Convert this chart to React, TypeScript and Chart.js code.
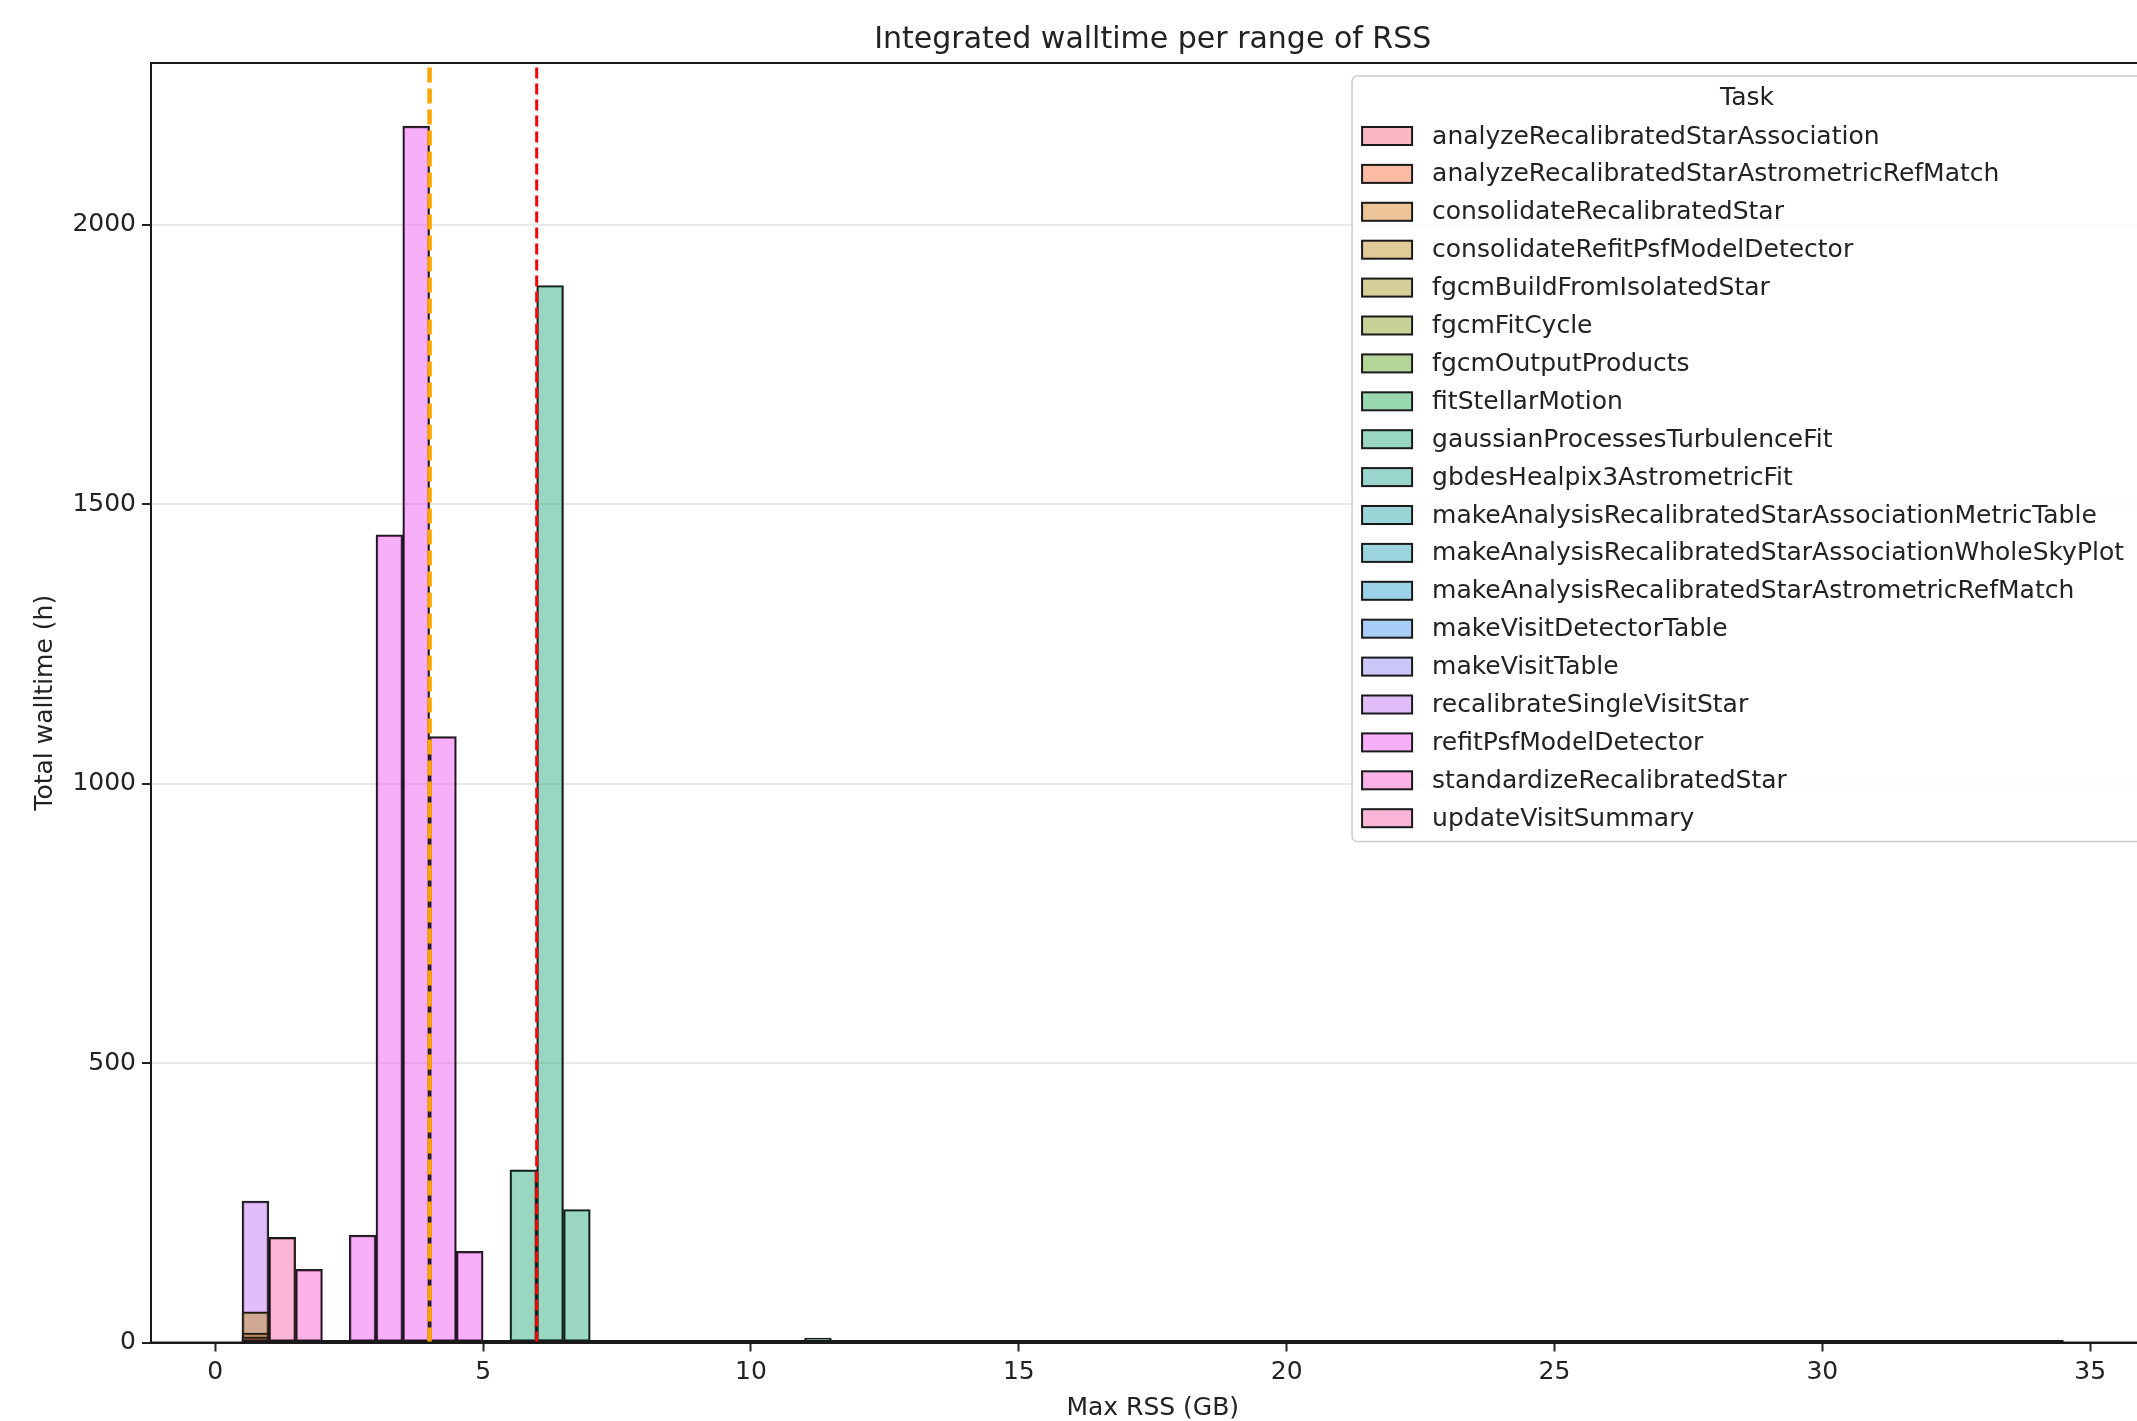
import React, { useEffect, useRef } from 'react';
import { Chart, registerables } from 'chart.js';

Chart.register(...registerables);

// ---------------- data ----------------
const chartTitle = 'Integrated walltime per range of RSS';
const xLabel = 'Max RSS (GB)';
const yLabel = 'Total walltime (h)';
const legendTitle = 'Task';

const taskNames = [
  'analyzeRecalibratedStarAssociation',
  'analyzeRecalibratedStarAstrometricRefMatch',
  'consolidateRecalibratedStar',
  'consolidateRefitPsfModelDetector',
  'fgcmBuildFromIsolatedStar',
  'fgcmFitCycle',
  'fgcmOutputProducts',
  'fitStellarMotion',
  'gaussianProcessesTurbulenceFit',
  'gbdesHealpix3AstrometricFit',
  'makeAnalysisRecalibratedStarAssociationMetricTable',
  'makeAnalysisRecalibratedStarAssociationWholeSkyPlot',
  'makeAnalysisRecalibratedStarAstrometricRefMatch',
  'makeVisitDetectorTable',
  'makeVisitTable',
  'recalibrateSingleVisitStar',
  'refitPsfModelDetector',
  'standardizeRecalibratedStar',
  'updateVisitSummary',
];

const binWidth = 0.5; // GB
const binSpan = [0.5, 34.5]; // first / last bin edge (GB)
const xTicks = [0, 5, 10, 15, 20, 25, 30, 35];
const yTicks = [0, 500, 1000, 1500, 2000];
const xLimits = [-1.2, 36.2];
const yLimits = [0, 2289];
const medianLine = 4.0; // GB (orange)
const highLine = 6.0; // GB (red)

// [bin start (GB), walltime (h)]
const analyzeRecalibratedStarAssociation = [[0.5, 5]];
const analyzeRecalibratedStarAstrometricRefMatch = [[0.5, 10]];
const consolidateRecalibratedStar = [[0.5, 17]];
const consolidateRefitPsfModelDetector = [[0.5, 55], [5.0, 3]];
const fgcmBuildFromIsolatedStar = [[19.0, 1.5], [19.5, 1.5]];
const fgcmFitCycle = [[34.0, 1.5]];
const fgcmOutputProducts = [[8.5, 1]];
const fitStellarMotion = [[7.5, 4], [6.0, 5]];
const gaussianProcessesTurbulenceFit = [[5.5, 309], [6.0, 1891], [6.5, 238]];
const gbdesHealpix3AstrometricFit = [[11.0, 8], [11.5, 3], [12.0, 3]];
const makeAnalysisRecalibratedStarAssociationMetricTable = [[0.5, 2]];
const makeAnalysisRecalibratedStarAssociationWholeSkyPlot = [[1.0, 1]];
const makeAnalysisRecalibratedStarAstrometricRefMatch = [[0.5, 1]];
const makeVisitDetectorTable = [[0.5, 4], [1.0, 3], [1.5, 3], [2.0, 2], [2.5, 3], [3.0, 4], [3.5, 4], [4.0, 3], [4.5, 3]];
const makeVisitTable = [[0.5, 1]];
const recalibrateSingleVisitStar = [[0.5, 253]];
const refitPsfModelDetector = [[2.5, 192], [3.0, 1445], [3.5, 2176], [4.0, 1084], [4.5, 163]];
const standardizeRecalibratedStar = [[1.5, 131]];
const updateVisitSummary = [[1.0, 188]];

const taskBins = [
  analyzeRecalibratedStarAssociation,
  analyzeRecalibratedStarAstrometricRefMatch,
  consolidateRecalibratedStar,
  consolidateRefitPsfModelDetector,
  fgcmBuildFromIsolatedStar,
  fgcmFitCycle,
  fgcmOutputProducts,
  fitStellarMotion,
  gaussianProcessesTurbulenceFit,
  gbdesHealpix3AstrometricFit,
  makeAnalysisRecalibratedStarAssociationMetricTable,
  makeAnalysisRecalibratedStarAssociationWholeSkyPlot,
  makeAnalysisRecalibratedStarAstrometricRefMatch,
  makeVisitDetectorTable,
  makeVisitTable,
  recalibrateSingleVisitStar,
  refitPsfModelDetector,
  standardizeRecalibratedStar,
  updateVisitSummary,
];

// ---------------- palette (seaborn husl) ----------------
function huslToRgb(h: number, s: number, l: number): number[] {
  const M = [
    [3.240969941904521, -1.537383177570093, -0.498610760293],
    [-0.96924363628087, 1.87596750150772, 0.041555057407175],
    [0.055630079696993, -0.20397695888897, 1.056971514242878],
  ];
  const refU = 0.19783000664283;
  const refV = 0.46831999493879;
  const kappa = 903.2962962;
  const eps = 0.0088564516;
  const L = l;
  if (L > 99.9999999) return [1, 1, 1];
  if (L < 1e-8) return [0, 0, 0];
  const sub1 = Math.pow(L + 16, 3) / 1560896;
  const sub2 = sub1 > eps ? sub1 : L / kappa;
  const hrad = (h / 360) * 2 * Math.PI;
  let maxC = Infinity;
  for (const [m1, m2, m3] of M) {
    for (const t of [0, 1]) {
      const top1 = (284517 * m1 - 94839 * m3) * sub2;
      const top2 = (838422 * m3 + 769860 * m2 + 731718 * m1) * L * sub2 - 769860 * t * L;
      const bottom = (632260 * m3 - 126452 * m2) * sub2 + 126452 * t;
      const slope = top1 / bottom;
      const inter = top2 / bottom;
      const len = inter / (Math.sin(hrad) - slope * Math.cos(hrad));
      if (len >= 0) maxC = Math.min(maxC, len);
    }
  }
  const C = (maxC / 100) * s;
  const U = Math.cos(hrad) * C;
  const V = Math.sin(hrad) * C;
  const varU = U / (13 * L) + refU;
  const varV = V / (13 * L) + refV;
  const Y = L <= 8 ? L / kappa : Math.pow((L + 16) / 116, 3);
  const X = -(9 * Y * varU) / ((varU - 4) * varV - varU * varV);
  const Z = (9 * Y - 15 * varV * Y - varV * X) / (3 * varV);
  return M.map(([a, b, c]) => {
    const v = a * X + b * Y + c * Z;
    const g = v <= 0.0031308 ? 12.92 * v : 1.055 * Math.pow(v, 1 / 2.4) - 0.055;
    return Math.min(1, Math.max(0, g));
  });
}

function huslPalette(n: number): number[][] {
  const out: number[][] = [];
  for (let i = 0; i < n; i++) {
    const hue = (((i / n) + 0.01) % 1) * 359;
    out.push(huslToRgb(hue, 0.9 * 99, 0.65 * 99));
  }
  return out;
}

const rgba = (c: number[], a: number) =>
  `rgba(${Math.round(c[0] * 255)}, ${Math.round(c[1] * 255)}, ${Math.round(c[2] * 255)}, ${a})`;

const FONT = "'DejaVu Sans', 'Liberation Sans', sans-serif";
const TEXT = '#222222';
const EDGE = '#1a1a1a';

export default function App() {
  const ref = useRef<HTMLCanvasElement | null>(null);

  useEffect(() => {
    const canvas = ref.current;
    if (!canvas) return;
    Chart.defaults.font.family = FONT;
    const palette = huslPalette(taskNames.length);
    const fills = palette.map((c) => rgba(c, 0.5));

    const barSets: any[] = taskNames.map((name, i) => ({
      type: 'bar',
      label: name,
      data: taskBins[i].map(([start, h]) => ({ x: start + binWidth / 2, y: h })),
      backgroundColor: fills[i],
      borderColor: EDGE,
      borderWidth: 1.8,
      borderSkipped: false,
      grouped: false,
      barPercentage: 1,
      categoryPercentage: 1,
      order: 2,
    }));

    const lineSets: any[] = [
      {
        type: 'line',
        label: 'zero bins',
        data: binSpan.map((x) => ({ x, y: 0 })),
        borderColor: EDGE,
        borderWidth: 5,
        pointRadius: 0,
        order: 1,
      },
      {
        type: 'line',
        label: 'median',
        data: [
          { x: medianLine, y: yLimits[0] },
          { x: medianLine, y: yLimits[1] },
        ],
        borderColor: '#ffa500',
        borderWidth: 4.5,
        borderDash: [15, 6],
        pointRadius: 0,
        order: 0,
      },
      {
        type: 'line',
        label: 'high',
        data: [
          { x: highLine, y: yLimits[0] },
          { x: highLine, y: yLimits[1] },
        ],
        borderColor: '#ff0000',
        borderWidth: 3,
        borderDash: [11, 5],
        pointRadius: 0,
        order: 0,
      },
    ];

    const framePlugin = {
      id: 'frame',
      afterDatasetsDraw(chart: any) {
        const { ctx, chartArea: a } = chart;
        ctx.save();
        ctx.strokeStyle = EDGE;
        ctx.lineWidth = 2;
        ctx.strokeRect(a.left, a.top, a.right - a.left, a.bottom - a.top);
        ctx.restore();
      },
    };

    const legendPlugin = {
      id: 'taskLegend',
      afterDraw(chart: any) {
        const { ctx, chartArea: a } = chart;
        const fs = 25;
        ctx.save();
        ctx.font = `${fs}px ${FONT}`;
        const maxW = Math.max(...taskNames.map((n) => ctx.measureText(n).width));
        const right = a.right - 12.5;
        const top = a.top + 13;
        const width = 10 + 50 + 20 + maxW + 18;
        const left = right - width;
        const rowH = 37.9;
        const firstRow = 60;
        const height = firstRow + (taskNames.length - 1) * rowH + 23.2;
        const r = 5;
        ctx.beginPath();
        ctx.moveTo(left + r, top);
        ctx.lineTo(right - r, top);
        ctx.arcTo(right, top, right, top + r, r);
        ctx.lineTo(right, top + height - r);
        ctx.arcTo(right, top + height, right - r, top + height, r);
        ctx.lineTo(left + r, top + height);
        ctx.arcTo(left, top + height, left, top + height - r, r);
        ctx.lineTo(left, top + r);
        ctx.arcTo(left, top, left + r, top, r);
        ctx.closePath();
        ctx.fillStyle = 'rgba(255,255,255,0.8)';
        ctx.fill();
        ctx.strokeStyle = '#cccccc';
        ctx.lineWidth = 1.5;
        ctx.stroke();

        ctx.fillStyle = TEXT;
        ctx.textBaseline = 'middle';
        ctx.textAlign = 'center';
        ctx.fillText(legendTitle, left + width / 2, top + 22.5);
        ctx.textAlign = 'left';
        taskNames.forEach((name, i) => {
          const y = top + firstRow + i * rowH;
          ctx.fillStyle = '#ffffff';
          ctx.fillRect(left + 10, y - 9, 50, 18);
          ctx.fillStyle = fills[i];
          ctx.fillRect(left + 10, y - 9, 50, 18);
          ctx.strokeStyle = EDGE;
          ctx.lineWidth = 2;
          ctx.strokeRect(left + 10, y - 9, 50, 18);
          ctx.fillStyle = TEXT;
          ctx.fillText(name, left + 80, y + 1);
        });
        ctx.restore();
      },
    };

    const chart = new Chart(canvas, {
      type: 'bar',
      data: { datasets: [...lineSets, ...barSets] },
      options: {
        responsive: false,
        animation: false,
        devicePixelRatio: 1,
        layout: { padding: { left: 0, right: 2200 - 2154.5, top: 0, bottom: 0 } },
        plugins: {
          legend: { display: false },
          tooltip: { enabled: false },
          title: {
            display: true,
            text: chartTitle,
            fullSize: false,
            color: TEXT,
            font: { size: 30, weight: 'normal', lineHeight: 1.2, family: FONT },
            padding: { top: 22, bottom: 5 },
          },
        },
        scales: {
          x: {
            type: 'linear',
            min: xLimits[0],
            max: xLimits[1],
            offset: false,
            grid: {
              display: true,
              drawOnChartArea: false,
              drawTicks: true,
              tickLength: 9,
              tickWidth: 2,
              tickColor: TEXT,
              offset: false,
            },
            border: { display: true, color: EDGE, width: 2 },
            ticks: {
              color: TEXT,
              font: { size: 25, family: FONT },
              padding: 6,
              maxRotation: 0,
              autoSkip: false,
              callback: (v: any) => String(v),
            },
            title: {
              display: true,
              text: xLabel,
              color: TEXT,
              font: { size: 25, lineHeight: 1, family: FONT },
              padding: { top: 0, bottom: 0 },
            },
            afterBuildTicks: (s: any) => {
              s.ticks = xTicks.map((v) => ({ value: v }));
            },
            afterFit: (s: any) => {
              s.height = 1421 - 1342.5;
            },
          },
          y: {
            type: 'linear',
            min: yLimits[0],
            max: yLimits[1],
            grid: {
              color: 'rgba(0,0,0,0.09)',
              lineWidth: 2,
              tickLength: 9,
              tickWidth: 2,
              tickColor: TEXT,
            },
            border: { display: true, color: EDGE, width: 2 },
            ticks: {
              color: TEXT,
              font: { size: 25, family: FONT },
              padding: 6,
              callback: (v: any) => String(v),
            },
            title: {
              display: true,
              text: yLabel,
              color: TEXT,
              font: { size: 25, lineHeight: 1.2, family: FONT },
              padding: { top: 30, bottom: 0 },
            },
            afterBuildTicks: (s: any) => {
              s.ticks = yTicks.map((v) => ({ value: v }));
            },
            afterFit: (s: any) => {
              s.width = 151;
            },
          },
        },
      } as any,
      plugins: [framePlugin, legendPlugin],
    } as any);

    return () => chart.destroy();
  }, []);

  return (
    <div
      style={{
        position: 'fixed',
        left: 0,
        top: 0,
        width: 2137,
        height: 1421,
        overflow: 'hidden',
        background: '#ffffff',
      }}
    >
      <canvas ref={ref} width={2200} height={1421} style={{ display: 'block', width: 2200, height: 1421 }} />
    </div>
  );
}
